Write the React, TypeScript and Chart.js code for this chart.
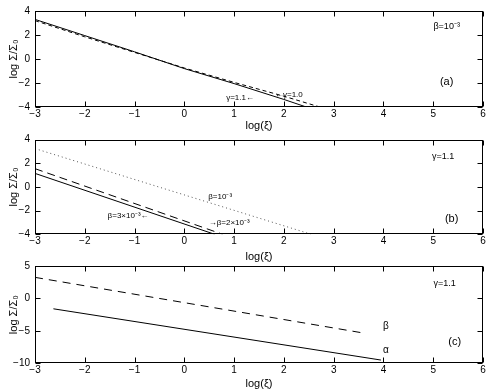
import React, { useEffect, useRef } from "react";
import { Chart, registerables } from "chart.js";

Chart.register(...registerables);
Chart.defaults.font.family = "'Liberation Sans', Arial, sans-serif";

// ---- Data ----
const xRange = [-3, 6];

// Panel (a): beta = 1e-3
const aGamma11X = [-3, -2, -1, 0, 1, 2, 2.45];
const aGamma11Y = [3.3, 1.95, 0.6, -0.8, -2.05, -3.37, -4.0];
const aGamma10X = [-3, -2, -1, 0, 1, 2, 2.72];
const aGamma10Y = [3.2, 1.85, 0.55, -0.75, -1.95, -3.1, -4.0];

// Panel (b): gamma = 1.1
const bBeta1X = [-3, 2.55];
const bBeta1Y = [3.25, -4.0];
const bBeta2X = [-3, 0.77];
const bBeta2Y = [1.55, -4.0];
const bBeta3X = [-3, 0.61];
const bBeta3Y = [1.15, -4.0];

// Panel (c): gamma = 1.1
const cBetaX = [-3, 3.65];
const cBetaY = [3.25, -5.4];
const cAlphaX = [-2.63, 3.95];
const cAlphaY = [-1.6, -9.5];

// Text labels (data coordinates)
const aNotes = [
  { x: 5.27, y: 2.7, text: "β=10⁻³", size: 9 },
  { x: 5.27, y: -1.92, text: "(a)", size: 11 },
  { x: 1.12, y: -3.25, text: "γ=1.1←", size: 8 },
  { x: 2.1, y: -3.0, text: "←γ=1.0", size: 8 },
];
const bNotes = [
  { x: 5.2, y: 2.56, text: "γ=1.1", size: 9 },
  { x: 5.37, y: -2.73, text: "(b)", size: 11 },
  { x: 0.72, y: -0.82, text: "β=10⁻³", size: 8 },
  { x: -1.13, y: -2.45, text: "β=3×10⁻³←", size: 8 },
  { x: 0.9, y: -3.05, text: "→β=2×10⁻³", size: 8 },
];
const cNotes = [
  { x: 5.23, y: 2.33, text: "γ=1.1", size: 9 },
  { x: 5.43, y: -6.66, text: "(c)", size: 11 },
  { x: 4.05, y: -4.3, text: "β", size: 10 },
  { x: 4.05, y: -8.0, text: "α", size: 10 },
];

type Series = { x: number[]; y: number[]; dash: number[]; color?: string };
type Note = { x: number; y: number; text: string; size: number };

const fmt = (v: any) => String(v).replace("-", "−");

function makeFrame(notes: Note[]) {
  return {
    id: "frame",
    afterDraw(chart: any) {
      const { ctx, chartArea } = chart;
      const xs = chart.scales.x;
      const ys = chart.scales.y;
      const l = Math.round(chartArea.left) + 0.5;
      const r = Math.round(chartArea.right) - 0.5;
      const t = Math.round(chartArea.top) + 0.5;
      const b = Math.round(chartArea.bottom) - 0.5;
      ctx.save();
      ctx.strokeStyle = "#000";
      ctx.lineWidth = 1;
      ctx.strokeRect(l, t, r - l, b - t);
      const tl = 5;
      ctx.beginPath();
      xs.ticks.forEach((tk: any) => {
        const px = Math.round(xs.getPixelForValue(tk.value)) + 0.5;
        ctx.moveTo(px, b);
        ctx.lineTo(px, b - tl);
        ctx.moveTo(px, t);
        ctx.lineTo(px, t + tl);
      });
      ys.ticks.forEach((tk: any) => {
        const py = Math.round(ys.getPixelForValue(tk.value)) + 0.5;
        ctx.moveTo(l, py);
        ctx.lineTo(l + tl, py);
        ctx.moveTo(r, py);
        ctx.lineTo(r - tl, py);
      });
      ctx.stroke();
      ctx.fillStyle = "#000";
      ctx.textAlign = "center";
      ctx.textBaseline = "middle";
      notes.forEach((n) => {
        ctx.font = `${n.size}px 'Liberation Sans', Arial, sans-serif`;
        ctx.fillText(n.text, xs.getPixelForValue(n.x), ys.getPixelForValue(n.y));
      });
      ctx.restore();
    },
  };
}

function Panel(props: {
  top: number;
  height: number;
  plotTop: number;
  plotBottom: number;
  series: Series[];
  yMin: number;
  yMax: number;
  yStep: number;
  notes: Note[];
}) {
  const ref = useRef<HTMLCanvasElement>(null);
  const { top, height, plotTop, plotBottom, series, yMin, yMax, yStep, notes } = props;
  useEffect(() => {
    const axisH = height - (plotBottom - top);
    const chart = new Chart(ref.current as HTMLCanvasElement, {
      type: "line",
      data: {
        datasets: series.map((s) => ({
          data: s.x.map((x, i) => ({ x, y: s.y[i] })),
          borderColor: s.color || "#000",
          borderWidth: 1,
          borderDash: s.dash,
          pointRadius: 0,
          tension: 0,
          fill: false,
        })),
      },
      options: {
        animation: false,
        responsive: false,
        maintainAspectRatio: false,
        layout: { padding: { top: plotTop - top, right: 8, left: 0, bottom: 0 } },
        plugins: { legend: { display: false }, tooltip: { enabled: false } },
        scales: {
          x: {
            type: "linear",
            min: xRange[0],
            max: xRange[1],
            afterFit: (s: any) => {
              s.height = axisH;
            },
            grid: { display: false, drawTicks: false },
            border: { display: false },
            ticks: {
              stepSize: 1,
              padding: 1,
              color: "#000",
              font: { size: 10 },
              callback: fmt,
              maxRotation: 0,
              autoSkip: false,
            },
            title: {
              display: true,
              text: "log(ξ)",
              color: "#000",
              font: { size: 11 },
              padding: { top: 0, bottom: 0 },
            },
          },
          y: {
            type: "linear",
            min: yMin,
            max: yMax,
            afterFit: (s: any) => {
              s.width = 35;
            },
            grid: { display: false, drawTicks: false },
            border: { display: false },
            ticks: {
              stepSize: yStep,
              padding: 5,
              color: "#000",
              font: { size: 10 },
              callback: fmt,
            },
            title: {
              display: true,
              text: "log Σ/Σ₀",
              color: "#000",
              font: { size: 11 },
              padding: { top: 7, bottom: 0 },
            },
          },
        },
      } as any,
      plugins: [makeFrame(notes)],
    });
    return () => chart.destroy();
  }, []);
  return (
    <canvas
      ref={ref}
      width={491}
      height={height}
      style={{ position: "absolute", left: 0, top, width: 491, height }}
    />
  );
}

export default function App() {
  return (
    <div
      style={{
        position: "fixed",
        left: 0,
        top: 0,
        width: 491,
        height: 391,
        background: "#fff",
        overflow: "hidden",
      }}
    >
      <Panel
        top={0}
        height={133}
        plotTop={9.5}
        plotBottom={107}
        yMin={-4}
        yMax={4}
        yStep={2}
        notes={aNotes}
        series={[
          { x: aGamma11X, y: aGamma11Y, dash: [] },
          { x: aGamma10X, y: aGamma10Y, dash: [4, 3] },
        ]}
      />
      <Panel
        top={124}
        height={140}
        plotTop={139.7}
        plotBottom={234.3}
        yMin={-4}
        yMax={4}
        yStep={2}
        notes={bNotes}
        series={[
          { x: bBeta1X, y: bBeta1Y, dash: [1, 3], color: "#555" },
          { x: bBeta2X, y: bBeta2Y, dash: [8, 5] },
          { x: bBeta3X, y: bBeta3Y, dash: [] },
        ]}
      />
      <Panel
        top={252}
        height={139}
        plotTop={266}
        plotBottom={363.3}
        yMin={-10}
        yMax={5}
        yStep={5}
        notes={cNotes}
        series={[
          { x: cBetaX, y: cBetaY, dash: [8, 6] },
          { x: cAlphaX, y: cAlphaY, dash: [] },
        ]}
      />
    </div>
  );
}
